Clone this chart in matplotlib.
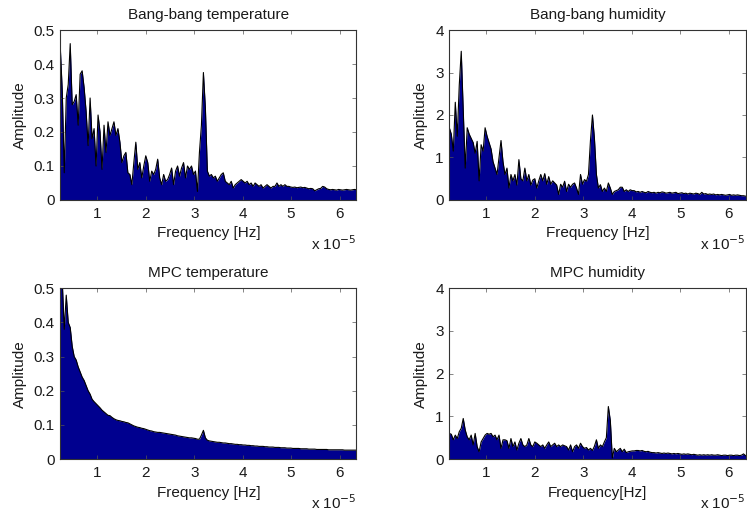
import numpy as np
import matplotlib
matplotlib.use('Agg')
import matplotlib.pyplot as plt

plt.rcParams['font.family'] = ['Liberation Sans', 'DejaVu Sans']
plt.rcParams['font.size'] = 11

# ---------------- data ----------------
titles = ['Bang-bang temperature', 'Bang-bang humidity', 'MPC temperature', 'MPC humidity']
xlabels = ['Frequency [Hz]', 'Frequency [Hz]', 'Frequency [Hz]', 'Frequency[Hz]']
ylabel = 'Amplitude'
offset_label = r'x 10$^{-5}$'

# frequency axis (units of 1e-5 Hz): evenly spaced FFT bins
f_start, f_stop = 0.235, 6.35
n_bins = 150

x_ticks = [1, 2, 3, 4, 5, 6]
x_ticklabels = ['1', '2', '3', '4', '5', '6']
temp_yticks = [0, 0.1, 0.2, 0.3, 0.4, 0.5]
temp_yticklabels = ['0', '0.1', '0.2', '0.3', '0.4', '0.5']
hum_yticks = [0, 1, 2, 3, 4]
hum_yticklabels = ['0', '1', '2', '3', '4']

bb_temp = [
    0.45, 0.32, 0.08, 0.30, 0.34, 0.46, 0.28, 0.29, 0.31, 0.22,
    0.37, 0.38, 0.33, 0.26, 0.16, 0.30, 0.18, 0.21, 0.10, 0.25,
    0.20, 0.09, 0.22, 0.14, 0.23, 0.19, 0.21, 0.23, 0.19, 0.21,
    0.17, 0.11, 0.13, 0.14, 0.08, 0.075, 0.045, 0.11, 0.17, 0.09,
    0.11, 0.065, 0.10, 0.13, 0.11, 0.055, 0.085, 0.075, 0.09, 0.12,
    0.065, 0.045, 0.075, 0.055, 0.06, 0.075, 0.094, 0.045, 0.085, 0.10,
    0.07, 0.094, 0.11, 0.065, 0.10, 0.09, 0.10, 0.075, 0.085, 0.025,
    0.14, 0.22, 0.375, 0.27, 0.085, 0.07, 0.075, 0.065, 0.07, 0.055,
    0.065, 0.075, 0.08, 0.055, 0.05, 0.045, 0.055, 0.035, 0.045, 0.05,
    0.055, 0.06, 0.055, 0.05, 0.055, 0.045, 0.05, 0.04, 0.05, 0.045,
    0.04, 0.045, 0.035, 0.04, 0.045, 0.04, 0.035, 0.04, 0.04, 0.05,
    0.04, 0.045, 0.04, 0.045, 0.04, 0.04, 0.038, 0.037, 0.038, 0.036,
    0.037, 0.038, 0.036, 0.037, 0.035, 0.033, 0.034, 0.033, 0.027, 0.03,
    0.033, 0.034, 0.04, 0.038, 0.033, 0.031, 0.03, 0.031, 0.03, 0.029,
    0.031, 0.03, 0.029, 0.03, 0.031, 0.03, 0.029, 0.03, 0.031, 0.03,
]

bb_hum = [
    1.7, 1.55, 1.15, 2.3, 1.5, 2.7, 3.5, 2.1, 0.75, 1.7,
    1.55, 1.45, 1.35, 1.1, 1.38, 0.45, 1.3, 1.15, 1.7, 1.5,
    1.35, 1.2, 0.9, 0.75, 0.6, 1.0, 1.4, 0.9, 0.6, 0.75,
    0.28, 0.6, 0.45, 0.6, 0.35, 0.95, 0.5, 0.45, 0.75, 0.45,
    0.6, 0.35, 0.47, 0.5, 0.28, 0.45, 0.6, 0.45, 0.62, 0.37,
    0.55, 0.37, 0.45, 0.4, 0.35, 0.13, 0.37, 0.3, 0.44, 0.2,
    0.37, 0.3, 0.37, 0.4, 0.28, 0.13, 0.6, 0.37, 0.48, 0.44,
    0.6, 1.4, 2.0, 1.45, 0.6, 0.28, 0.36, 0.2, 0.28, 0.2,
    0.4, 0.28, 0.13, 0.2, 0.22, 0.24, 0.3, 0.3, 0.2, 0.24,
    0.2, 0.24, 0.22, 0.22, 0.19, 0.2, 0.18, 0.2, 0.18, 0.17,
    0.2, 0.18, 0.17, 0.18, 0.16, 0.18, 0.17, 0.19, 0.18, 0.16,
    0.17, 0.18, 0.16, 0.17, 0.18, 0.15, 0.16, 0.17, 0.15, 0.16,
    0.14, 0.16, 0.15, 0.14, 0.16, 0.15, 0.13, 0.18, 0.14, 0.15,
    0.13, 0.14, 0.13, 0.14, 0.12, 0.13, 0.12, 0.13, 0.12, 0.11,
    0.12, 0.13, 0.11, 0.12, 0.11, 0.12, 0.11, 0.10, 0.10, 0.09,
]

mpc_temp = [
    0.60, 0.52, 0.38, 0.48, 0.40, 0.385, 0.33, 0.30, 0.29, 0.27,
    0.255, 0.24, 0.23, 0.215, 0.20, 0.19, 0.175, 0.168, 0.162, 0.156,
    0.15, 0.143, 0.138, 0.133, 0.128, 0.127, 0.122, 0.118, 0.115, 0.113,
    0.112, 0.11, 0.109, 0.107, 0.106, 0.103, 0.10, 0.097, 0.095, 0.093,
    0.092, 0.09, 0.089, 0.087, 0.085, 0.083, 0.082, 0.08, 0.079, 0.078,
    0.078, 0.077, 0.076, 0.075, 0.074, 0.073, 0.072, 0.071, 0.07, 0.068,
    0.067, 0.066, 0.065, 0.064, 0.063, 0.062, 0.062, 0.061, 0.06, 0.058,
    0.058, 0.07, 0.084, 0.062, 0.055, 0.053, 0.052, 0.051, 0.05, 0.049,
    0.049, 0.048, 0.047, 0.047, 0.046, 0.045, 0.045, 0.044, 0.043, 0.043,
    0.042, 0.042, 0.041, 0.041, 0.040, 0.040, 0.039, 0.039, 0.038, 0.038,
    0.037, 0.037, 0.037, 0.036, 0.036, 0.035, 0.035, 0.035, 0.034, 0.034,
    0.034, 0.033, 0.033, 0.033, 0.032, 0.032, 0.032, 0.031, 0.031, 0.031,
    0.031, 0.030, 0.030, 0.030, 0.030, 0.029, 0.029, 0.029, 0.029, 0.028,
    0.028, 0.028, 0.028, 0.028, 0.028, 0.027, 0.027, 0.027, 0.027, 0.027,
    0.027, 0.027, 0.027, 0.026, 0.026, 0.026, 0.026, 0.026, 0.026, 0.026,
]

mpc_hum = [
    0.6, 0.58, 0.45, 0.56, 0.48, 0.64, 0.72, 0.95, 0.68, 0.52,
    0.45, 0.56, 0.33, 0.6, 0.29, 0.17, 0.4, 0.48, 0.56, 0.6,
    0.58, 0.6, 0.52, 0.56, 0.45, 0.56, 0.25, 0.45, 0.45, 0.43,
    0.25, 0.48, 0.29, 0.4, 0.21, 0.37, 0.48, 0.33, 0.29, 0.33,
    0.48, 0.33, 0.29, 0.4, 0.37, 0.33, 0.29, 0.33, 0.25, 0.33,
    0.4, 0.29, 0.33, 0.37, 0.29, 0.33, 0.29, 0.33, 0.31, 0.29,
    0.21, 0.33, 0.17, 0.29, 0.33, 0.25, 0.37, 0.29, 0.25, 0.27,
    0.21, 0.25, 0.2, 0.3, 0.45, 0.25, 0.33, 0.29, 0.4, 0.5,
    1.23, 0.9, 0.02, 0.25, 0.17, 0.21, 0.25, 0.17, 0.23, 0.15,
    0.17, 0.18, 0.19, 0.19, 0.2, 0.2, 0.19, 0.2, 0.18, 0.17,
    0.18, 0.16, 0.15, 0.15, 0.14, 0.15, 0.14, 0.13, 0.14, 0.13,
    0.14, 0.13, 0.12, 0.13, 0.12, 0.13, 0.12, 0.11, 0.12, 0.11,
    0.12, 0.11, 0.10, 0.11, 0.10, 0.09, 0.10, 0.09, 0.10, 0.09,
    0.10, 0.09, 0.10, 0.09, 0.09, 0.10, 0.09, 0.08, 0.09, 0.09,
    0.08, 0.09, 0.09, 0.08, 0.09, 0.09, 0.08, 0.09, 0.12, 0.08,
]

series = [bb_temp, bb_hum, mpc_temp, mpc_hum]
yticks = [temp_yticks, hum_yticks, temp_yticks, hum_yticks]
yticklabels = [temp_yticklabels, hum_yticklabels, temp_yticklabels, hum_yticklabels]
ylims = [(0, 0.5), (0, 4), (0, 0.5), (0, 4)]

# ---------------- style ----------------
FILL = '#00008F'
TEXT = '#1a1a1a'
positions = [
    [0.0807, 0.6117, 0.3965, 0.3300],
    [0.6015, 0.6117, 0.3965, 0.3300],
    [0.0807, 0.1087, 0.3965, 0.3315],
    [0.6015, 0.1087, 0.3965, 0.3315],
]

fig = plt.figure(figsize=(7.47, 5.15), dpi=100)
freq = np.linspace(f_start, f_stop, n_bins)

for k in range(4):
    ax = fig.add_axes(positions[k])
    amp = np.asarray(series[k])
    ax.fill_between(freq, amp, 0, color=FILL, linewidth=0)
    ax.plot(freq, amp, color='black', linewidth=0.8)
    ax.set_xlim(f_start, f_stop)
    ax.set_ylim(*ylims[k])
    ax.set_xticks(x_ticks)
    ax.set_xticklabels(x_ticklabels)
    ax.set_yticks(yticks[k])
    ax.set_yticklabels(yticklabels[k])
    ax.tick_params(direction='in', top=True, right=True, length=3,
                   width=0.5, color='#555555', labelcolor=TEXT,
                   labelsize=11)
    ax.tick_params(axis='x', pad=5)
    ax.tick_params(axis='y', pad=4)
    for s in ax.spines.values():
        s.set_linewidth(0.8)
        s.set_color('#333333')
    ax.set_title(titles[k], fontsize=11, color=TEXT, pad=8)
    ax.set_xlabel(xlabels[k], fontsize=11, color=TEXT, labelpad=4)
    ax.set_ylabel(ylabel, fontsize=11, color=TEXT, labelpad=5)
    ax.text(1.0, -0.295, offset_label, transform=ax.transAxes,
            ha='right', va='baseline', fontsize=11, color=TEXT)

fig.savefig('out.png', dpi=100)
